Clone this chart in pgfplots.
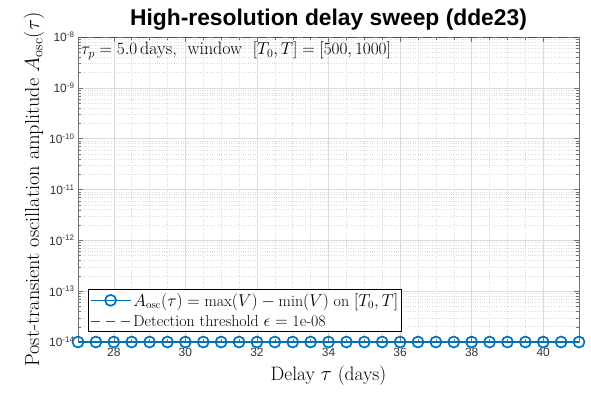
\documentclass[border=0pt]{standalone}
\usepackage{fontspec}
\setsansfont{Liberation Sans}
\usepackage{pgfplots}
\pgfplotsset{compat=1.18}
\definecolor{mblue}{rgb}{0,0.447,0.741}
\definecolor{gridc}{rgb}{0.86,0.86,0.86}

\begin{document}
\begin{tikzpicture}[x=1bp,y=1bp]
\useasboundingbox (0,0) rectangle (591,397);
\begin{axis}[
  at={(78bp,55bp)}, anchor=south west,
  scale only axis, width=501bp, height=305bp,
  ymode=log,
  xmin=27, xmax=41, ymin=1e-14, ymax=1e-8,
  xtick={28,30,...,40},
  minor x tick num=3,
  ytick={1e-14,1e-13,1e-12,1e-11,1e-10,1e-9,1e-8},
  yticklabels={10\textsuperscript{-14},10\textsuperscript{-13},10\textsuperscript{-12},10\textsuperscript{-11},10\textsuperscript{-10},10\textsuperscript{-9},10\textsuperscript{-8}},
  tick label style={font=\sffamily\fontsize{12}{14}\selectfont, text=black!80},
  xticklabel style={yshift=-3bp},
  /pgf/number format/assume math mode=true,
  tick align=inside,
  major tick length=5bp, minor tick length=3bp,
  axis line style={black!55},
  every tick/.style={black!55},
  grid=both,
  major grid style={gridc, line width=0.5pt},
  minor grid style={gridc, dotted, line width=0.5pt},
  xlabel={Delay $\tau$ (days)},
  ylabel={Post-transient oscillation amplitude $A_{\mathrm{osc}}(\tau)$},
  xlabel style={font=\fontsize{19.5}{21}\selectfont, yshift=-2bp},
  ylabel style={font=\fontsize{20.3}{22}\selectfont, yshift=-2bp},
  title={High-resolution delay sweep (dde23)},
  title style={font=\sffamily\bfseries\fontsize{22.9}{24}\selectfont, yshift=-3bp},
  clip mode=individual,
  legend style={at={(rel axis cs:0.02,0.035)}, anchor=south west,
    font=\fontsize{16}{18}\selectfont, draw=black, line width=0.6pt,
    row sep=3.5bp, inner sep=1.5bp, cells={anchor=west}},
  legend cell align=left,
  legend image code/.code={
    \draw[mark repeat=2,mark phase=2,#1] plot coordinates {(0bp,0bp) (20bp,0bp) (40bp,0bp)};},
]
\addplot[mblue, line width=1.6pt, mark=o, mark size=5.5bp,
  mark options={line width=1.7pt, fill=white, solid}] coordinates {
  (27,1e-14) (27.5,1e-14) (28,1e-14) (28.5,1e-14) (29,1e-14) (29.5,1e-14)
  (30,1e-14) (30.5,1e-14) (31,1e-14) (31.5,1e-14) (32,1e-14) (32.5,1e-14)
  (33,1e-14) (33.5,1e-14) (34,1e-14) (34.5,1e-14) (35,1e-14) (35.5,1e-14)
  (36,1e-14) (36.5,1e-14) (37,1e-14) (37.5,1e-14) (38,1e-14) (38.5,1e-14)
  (39,1e-14) (39.5,1e-14) (40,1e-14) (40.5,1e-14) (41,1e-14)};
\addlegendentry{$A_{\mathrm{osc}}(\tau) = \max(V) - \min(V)$ on $[T_0, T]$}
\addplot[black!70, line width=1.3pt, dash pattern=on 9bp off 6bp] coordinates {
  (27,1e-8) (41,1e-8)};
\addlegendentry{Detection threshold $\epsilon = $ 1e-08}
\node[anchor=north west, inner sep=0pt, font=\fontsize{18}{20}\selectfont]
  at (rel axis cs:0.006,0.985) {$\tau_p = 5.0\,$days,\ \ window\ \ $[T_0, T] = [500, 1000]$};
\end{axis}
\end{tikzpicture}
\end{document}
